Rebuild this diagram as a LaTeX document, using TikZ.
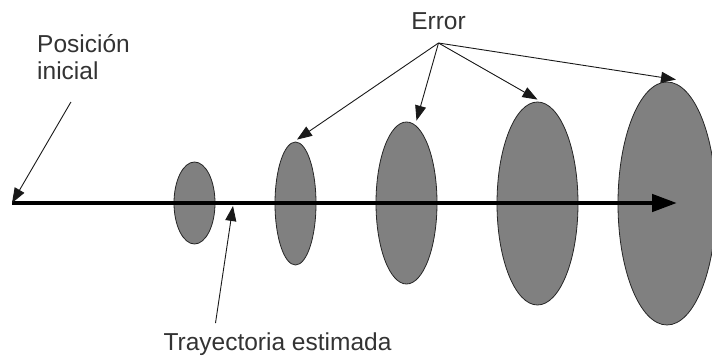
\documentclass[tikz,border=0pt]{standalone}
\usepackage{fontspec}
\setmainfont{Liberation Sans}
\usetikzlibrary{arrows.meta,shapes.geometric}
\tikzset{
  blob/.style={ellipse, draw=black!85, fill=black!50, line width=0.8pt, inner sep=0pt},
  pointer/.style={-{Triangle[length=15pt,width=11pt]}, line width=0.9pt, black!90},
  lbl/.style={inner sep=0pt, text=black!80, font=\fontsize{24.5}{27}\selectfont}
}
\begin{document}
\begin{tikzpicture}[x=1pt,y=-1pt]
\clip (0,0) rectangle (712,358);
\node[blob, minimum width=41pt, minimum height=82pt] (e1) at (194.5,203) {};
\node[blob, minimum width=41pt, minimum height=123pt] (e2) at (295.5,203.5) {};
\node[blob, minimum width=61pt, minimum height=162pt] (e3) at (406.5,203) {};
\node[blob, minimum width=81pt, minimum height=203pt] (e4) at (537.5,203.5) {};
\node[blob, minimum width=98pt, minimum height=243pt] (e5) at (667,203.5) {};
\coordinate (start) at (12,203);
\coordinate (goal) at (677,203);
\coordinate (mid) at (233,206);
\draw[line width=4.5pt, -{Triangle[length=25pt,width=17pt]}] (start) -- (goal);
\node[lbl, align=left, anchor=base west] (pos) at (37,80) {Posición\\inicial};
\node[lbl, anchor=base] (err) at (438.5,30) {Error};
\node[lbl, anchor=base] (traj) at (277.5,350) {Trayectoria estimada};
\coordinate (fork) at ([yshift=-13pt]err.base);
\draw[pointer, shorten <=25pt] (pos.south) -- (start);
\draw[pointer] ([xshift=-62pt,yshift=9pt]traj.north) -- (mid);
\draw[pointer] (fork) -- ([xshift=1.5pt,yshift=2pt]e2.north);
\draw[pointer] (fork) -- ([xshift=10pt,yshift=1pt]e3.north);
\draw[pointer] (fork) -- ([yshift=2pt]e4.north);
\draw[pointer] (fork) -- ([xshift=9pt,yshift=2pt]e5.north);
\end{tikzpicture}
\end{document}
